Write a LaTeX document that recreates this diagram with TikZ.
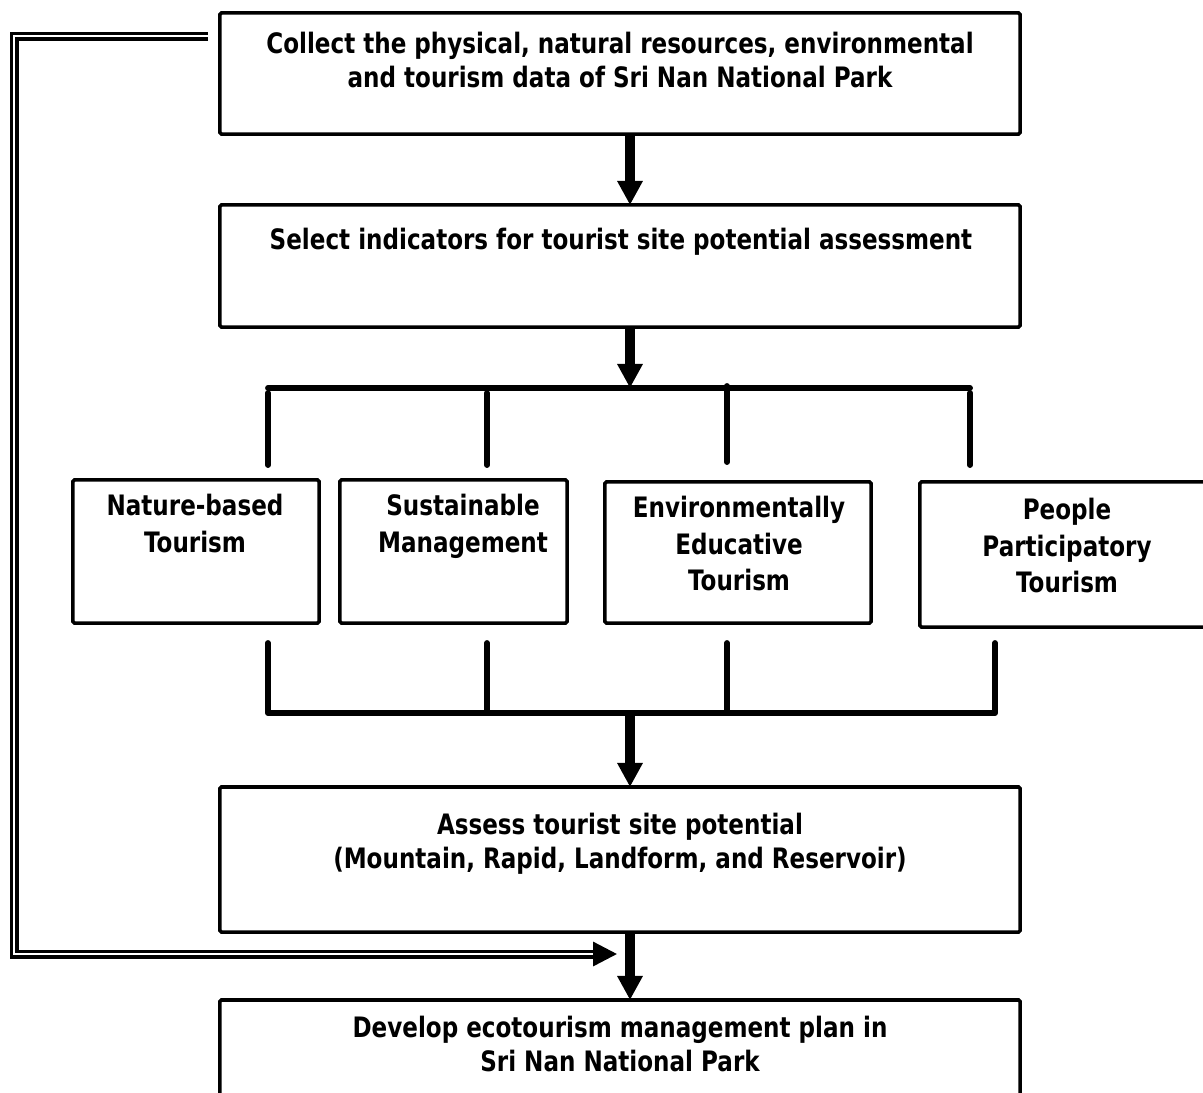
\documentclass[tikz,border=0pt]{standalone}
\usepackage{fontspec}
\setmainfont{DejaVu Sans}[FakeStretch=0.82]
\usetikzlibrary{arrows.meta,positioning}
\definecolor{FlowInk}{HTML}{000000}

\begin{document}
\begin{tikzpicture}[x=0.025cm,y=-0.025cm]
    \tikzset{stagebox/.style={draw=FlowInk,line width=2.5pt,rounded corners=1pt,inner sep=0pt,outer sep=0pt},
      stagetext/.style={anchor=north,align=center,inner sep=0pt,font=\fontsize{20pt}{24pt}\selectfont\bfseries},
      optiontext/.style={stagetext,font=\fontsize{20pt}{26pt}\selectfont\bfseries},
      flowarrow/.style={-{Triangle[length=0.6cm,width=0.6cm]},line width=6.6pt,draw=FlowInk},
      branchline/.style={line width=4.2pt,line cap=round,line join=round,draw=FlowInk},
      backloop/.style={draw=FlowInk,double=white,line width=2.4pt,double distance=1.6pt,
        -{Triangle[length=0.6cm,width=0.6cm]}}}
    \useasboundingbox (0,0) rectangle (1203,1092);
    % stages
    \node[stagebox,minimum width=20cm,minimum height=3.025cm] (collect) at (620,73.5) {};
    \node[stagebox,minimum width=20cm,minimum height=3.05cm] (select) at (620,266) {};
    \node[stagebox,minimum width=6.15cm,minimum height=3.575cm] (nature) at (196,551.5) {};
    \node[stagebox,minimum width=5.675cm,minimum height=3.575cm] (sustain) at (453.5,551.5) {};
    \node[stagebox,minimum width=6.65cm,minimum height=3.525cm] (educate) at (738,552.5) {};
    \node[stagebox,minimum width=7.375cm,minimum height=3.625cm] (people) at (1067.5,554.5) {};
    \node[stagebox,minimum width=20cm,minimum height=3.625cm] (assess) at (620,859.5) {};
    \node[stagebox,minimum width=20cm,minimum height=3cm] (develop) at (620,1060) {};
    % texts
    \node[stagetext] (collecttxt) at (620,32) {Collect the physical, natural resources, environmental\\and tourism data of Sri Nan National Park};
    \node[stagetext] (selecttxt) at (621,228) {Select indicators for tourist site potential assessment};
    \node[optiontext] (naturetxt) at (195,494) {Nature-based\\Tourism};
    \node[optiontext] (sustaintxt) at (463,494) {Sustainable\\Management};
    \node[optiontext] (educatetxt) at (739,496) {Environmentally\\Educative\\Tourism};
    \node[optiontext] (peopletxt) at (1067,498) {People\\Participatory\\Tourism};
    \node[stagetext] (assesstxt) at (620,813) {Assess tourist site potential\\(Mountain, Rapid, Landform, and Reservoir)};
    \node[stagetext] (developtxt) at (620,1016) {Develop ecotourism management plan in\\Sri Nan National Park};
    % spine and bars
    \coordinate (spine) at (630,0);
    \coordinate (upbar) at (630,388);
    \coordinate (lowbar) at (630,713);
    \coordinate (loopstart) at (208,36);
    \coordinate (loopend) at (617,954);
    \draw[flowarrow] (collect.south -| spine) -- (select.north -| spine);
    \draw[flowarrow] (select.south -| spine) -- (upbar);
    \draw[branchline] (268,388) -- (970,388);
    \foreach \x in {268,487,970}
      \draw[branchline] (\x,393) -- (\x,465);
    \draw[branchline] (727,386) -- (727,462);
    \draw[branchline] (268,643) -- (268,713) -- (995,713) -- (995,643);
    \foreach \x in {487,727}
      \draw[branchline] (\x,643) -- (\x,713);
    \draw[flowarrow] (lowbar) -- (assess.north -| spine);
    \draw[flowarrow] (assess.south -| spine) -- (develop.north -| spine);
    % feedback loop
    \draw[backloop] (loopstart) -- (14,36) -- (14,954) -- (loopend);
\end{tikzpicture}
\end{document}
